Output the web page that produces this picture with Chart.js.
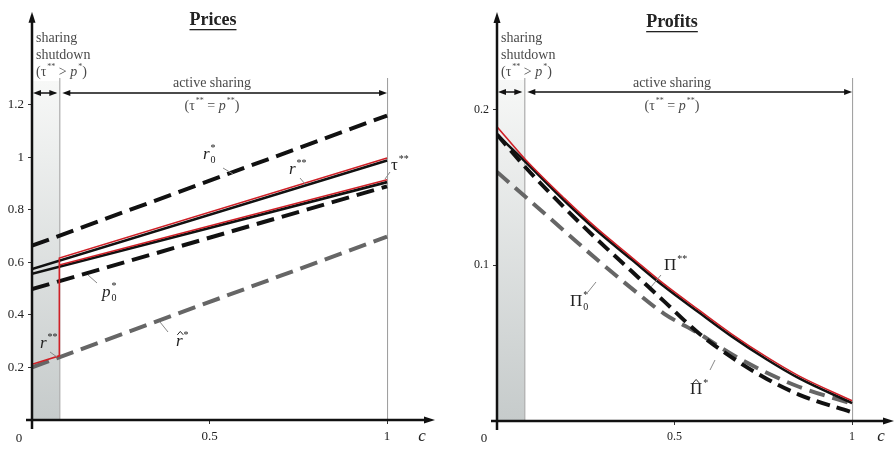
<!DOCTYPE html>
<html>
<head>
<meta charset="utf-8">
<script src="https://cdn.jsdelivr.net/npm/chart.js@4.4.1/dist/chart.umd.min.js"></script>
<style>
  body { margin: 0; background: #fff; }
  .wrap { display: flex; width: 896px; height: 449px; }
  canvas { display: block; }
</style>
</head>
<body>
<div class="wrap">
  <canvas id="prices" width="448" height="449"></canvas>
  <canvas id="profits" width="448" height="449"></canvas>
</div>
<script>
// ---- data ----
const BOUNDARY = 0.077;          // c where sharing shuts down
const cTicks = [0.5, 1];
const priceTicks = [0.2, 0.4, 0.6, 0.8, 1, 1.2];
const profitTicks = [0.1, 0.2];

// Prices (linear in c)
const cPrice    = [0, 1];
const r0Star    = [0.663, 1.158];
const rStar2    = [0.574, 0.987];
const tauStar2  = [0.556, 0.905];
const p0Star    = [0.498, 0.889];
const rHatStar  = [0.200, 0.698];
const rRedC     = [0, 0.077, 0.077, 1];
const rRed      = [0.212, 0.244, 0.616, 0.997];
const tauRedC   = [0.077, 1];
const tauRed    = [0.590, 0.914];

// Profits
const cProfit   = [0, 0.08, 0.19, 0.28, 0.38, 0.47, 0.57, 0.66, 0.76, 0.85, 1];
const piRed     = [0.189, 0.168, 0.143, 0.124, 0.105, 0.088, 0.071, 0.056, 0.041, 0.029, 0.013];
const piStar2   = [0.184, 0.1665, 0.1415, 0.1225, 0.1035, 0.0865, 0.0695, 0.0545, 0.0395, 0.0275, 0.0115];
const pi0Star   = [0.184, 0.163, 0.137, 0.117, 0.096, 0.077, 0.056, 0.041, 0.027, 0.017, 0.0055];
const piHatStar = [0.160, 0.144, 0.122, 0.104, 0.085, 0.069, 0.056, 0.043, 0.031, 0.022, 0.011];

const SERIF = '"Liberation Serif", "DejaVu Serif", serif';

function pts(xs, ys) { return xs.map((x, i) => ({ x: x, y: ys[i] })); }

function line(xs, ys, color, width, dash, smooth) {
    return {
        data: pts(xs, ys),
        showLine: true,
        borderColor: color,
        borderWidth: width,
        borderDash: dash || [],
        pointRadius: 0,
        fill: false,
        tension: 0,
        cubicInterpolationMode: smooth ? "monotone" : "default",
        borderCapStyle: "butt",
        borderJoinStyle: "miter",
    };
}

// rich text: parts = [{t, i, hat}, {sup, sub}]
function drawParts(ctx, x, y, parts, size, color) {
    ctx.save();
    ctx.fillStyle = color;
    ctx.strokeStyle = color;
    ctx.textBaseline = "middle";
    ctx.textAlign = "left";
    let cx = x;
    for (const p of parts) {
        if (p.t !== undefined) {
            ctx.font = (p.i ? "italic " : "") + size + "px " + SERIF;
            ctx.fillText(p.t, cx, y);
            const w = ctx.measureText(p.t).width;
            if (p.hat) {
                ctx.lineWidth = 1;
                ctx.beginPath();
                const hx = cx + w / 2 + (p.i ? 1 : 0);
                ctx.moveTo(hx - 3, y - size * 0.42);
                ctx.lineTo(hx, y - size * 0.62);
                ctx.lineTo(hx + 3, y - size * 0.42);
                ctx.stroke();
            }
            cx += w;
        } else {
            const s = Math.round(size * 0.6);
            ctx.font = s + "px " + SERIF;
            let w = 0;
            if (p.sup) { ctx.fillText(p.sup, cx + 1, y - size * 0.38); w = Math.max(w, ctx.measureText(p.sup).width); }
            if (p.sub) { ctx.fillText(p.sub, cx + 1, y + size * 0.3); w = Math.max(w, ctx.measureText(p.sub).width); }
            cx += w + 1;
        }
    }
    ctx.restore();
    return cx - x;
}

function partsWidth(ctx, parts, size) {
    ctx.save();
    let w = 0;
    for (const p of parts) {
        if (p.t !== undefined) {
            ctx.font = (p.i ? "italic " : "") + size + "px " + SERIF;
            w += ctx.measureText(p.t).width;
        } else {
            ctx.font = Math.round(size * 0.6) + "px " + SERIF;
            w += Math.max(p.sup ? ctx.measureText(p.sup).width : 0, p.sub ? ctx.measureText(p.sub).width : 0) + 1;
        }
    }
    ctx.restore();
    return w;
}

function arrowHead(ctx, x, y, dir, len, half) {
    ctx.beginPath();
    if (dir === "up") { ctx.moveTo(x, y); ctx.lineTo(x - half, y + len); ctx.lineTo(x + half, y + len); }
    if (dir === "right") { ctx.moveTo(x, y); ctx.lineTo(x - len, y - half); ctx.lineTo(x - len, y + half); }
    if (dir === "left") { ctx.moveTo(x, y); ctx.lineTo(x + len, y - half); ctx.lineTo(x + len, y + half); }
    ctx.closePath();
    ctx.fill();
}

const shutdownTxt = [{ t: "(τ" }, { sup: "**" }, { t: " > " }, { t: "p", i: true }, { sup: "*" }, { t: ")" }];
const activeTxt   = [{ t: "(τ" }, { sup: "**" }, { t: " = " }, { t: "p", i: true }, { sup: "**" }, { t: ")" }];

const decor = {
    id: "decor",
    beforeDatasetsDraw(chart, args, o) {
        const ctx = chart.ctx, xs = chart.scales.x, a = chart.chartArea;
        const x0 = xs.getPixelForValue(0), xb = xs.getPixelForValue(BOUNDARY), x1 = xs.getPixelForValue(1);
        ctx.save();
        const g = ctx.createLinearGradient(0, o.arrowY - 12, 0, a.bottom);
        g.addColorStop(0, "#f7f8f7");
        g.addColorStop(1, "#c6cbcb");
        ctx.fillStyle = g;
        ctx.fillRect(x0, o.arrowY - 12, xb - x0, a.bottom - o.arrowY + 12);
        ctx.strokeStyle = "#9a9a9a";
        ctx.lineWidth = 1;
        ctx.beginPath();
        ctx.moveTo(xb + 0.5, 78); ctx.lineTo(xb + 0.5, a.bottom);
        ctx.moveTo(x1 + 0.5, 78); ctx.lineTo(x1 + 0.5, a.bottom);
        ctx.stroke();
        ctx.restore();
    },
    afterDatasetsDraw(chart, args, o) {
        const ctx = chart.ctx, xs = chart.scales.x, a = chart.chartArea;
        const x0 = xs.getPixelForValue(0), xb = xs.getPixelForValue(BOUNDARY), x1 = xs.getPixelForValue(1);
        ctx.save();
        // axes with arrows
        ctx.strokeStyle = "#111";
        ctx.fillStyle = "#111";
        ctx.lineWidth = 2.5;
        ctx.beginPath();
        ctx.moveTo(x0, a.bottom + 9); ctx.lineTo(x0, a.top + 8);
        ctx.moveTo(x0 - 6, a.bottom); ctx.lineTo(a.right - 8, a.bottom);
        ctx.stroke();
        arrowHead(ctx, x0, a.top, "up", 11, 3.5);
        arrowHead(ctx, a.right, a.bottom, "right", 11, 3.5);

        // regime arrows
        const ay = o.arrowY;
        ctx.lineWidth = 1.5;
        ctx.beginPath();
        ctx.moveTo(x0 + 4, ay); ctx.lineTo(xb - 4, ay);
        ctx.moveTo(xb + 6, ay); ctx.lineTo(x1 - 4, ay);
        ctx.stroke();
        arrowHead(ctx, x0 + 1, ay, "left", 8, 3);
        arrowHead(ctx, xb - 2, ay, "right", 8, 3);
        arrowHead(ctx, xb + 3, ay, "left", 8, 3);
        arrowHead(ctx, x1, ay, "right", 8, 3);

        // title
        ctx.font = "bold 18px " + SERIF;
        ctx.textAlign = "center";
        ctx.textBaseline = "middle";
        ctx.fillStyle = "#222";
        ctx.fillText(o.title, o.titleX, o.titleY);
        const tw = ctx.measureText(o.title).width;
        ctx.fillRect(o.titleX - tw / 2, o.titleY + 9, tw, 1.3);

        // regime text
        const c = "#4a4a4a";
        ctx.font = "14px " + SERIF;
        ctx.textAlign = "left";
        ctx.fillStyle = c;
        ctx.fillText("sharing", x0 + 4, 38);
        ctx.fillText("shutdown", x0 + 4, 55);
        drawParts(ctx, x0 + 4, 72, shutdownTxt, 14, c);
        ctx.font = "14px " + SERIF;
        ctx.textAlign = "center";
        ctx.fillText("active sharing", o.activeX, 83);
        const aw = partsWidth(ctx, activeTxt, 14);
        drawParts(ctx, o.activeX - aw / 2, 106, activeTxt, 14, c);

        // origin and c
        ctx.font = "13px " + SERIF;
        ctx.fillStyle = "#222";
        ctx.textAlign = "center";
        ctx.fillText("0", x0 - 13, 439);
        ctx.font = "italic 17px " + SERIF;
        ctx.fillText("c", a.right - 13, 437);

        // leaders and curve labels
        ctx.strokeStyle = "#888";
        ctx.lineWidth = 1;
        ctx.beginPath();
        for (const l of o.leaders) { ctx.moveTo(l[0], l[1]); ctx.lineTo(l[2], l[3]); }
        ctx.stroke();
        for (const lb of o.labels) drawParts(ctx, lb.x, lb.y, lb.parts, 17, "#222");
        ctx.restore();
    },
};

function makeChart(id, datasets, yMax, xMax, yTicks, axisW, padRight, padTop, bottomH, tickSize, decorOpts) {
    return new Chart(document.getElementById(id), {
        type: "scatter",
        data: { datasets: datasets },
        options: {
            responsive: false,
            animation: false,
            devicePixelRatio: 1,
            layout: { padding: { left: 0, right: padRight, top: padTop, bottom: 0 } },
            plugins: { legend: { display: false }, tooltip: { enabled: false }, decor: decorOpts },
            scales: {
                x: {
                    type: "linear", min: 0, max: xMax,
                    afterBuildTicks: (s) => { s.ticks = cTicks.map(v => ({ value: v })); },
                    afterFit: (s) => { s.height = bottomH; },
                    grid: { drawOnChartArea: false, drawTicks: true, tickLength: 4, color: "#333" },
                    border: { display: false },
                    ticks: { color: "#222", padding: 5, font: { family: SERIF, size: tickSize }, maxRotation: 0,
                             callback: (v) => String(v) },
                },
                y: {
                    type: "linear", min: 0, max: yMax,
                    afterBuildTicks: (s) => { s.ticks = yTicks.map(v => ({ value: v })); },
                    afterFit: (s) => { s.width = axisW; },
                    grid: { drawOnChartArea: false, drawTicks: true, tickLength: 4, color: "#333" },
                    border: { display: false },
                    ticks: { color: "#222", padding: 4, font: { family: SERIF, size: tickSize },
                             callback: (v) => String(v) },
                },
            },
        },
        plugins: [decor],
    });
}

// Prices chart (red drawn first => on top)
makeChart("prices", [
    line(rRedC, rRed, "#cf2027", 1.6),
    line(tauRedC, tauRed, "#cf2027", 1.6),
    line(cPrice, rStar2, "#111", 2.6),
    line(cPrice, tauStar2, "#111", 2.6),
    line(cPrice, r0Star, "#111", 4, [18, 8]),
    line(cPrice, p0Star, "#111", 4, [18, 8]),
    line(cPrice, rHatStar, "#666", 4, [18, 8]),
], 1.553, 1.135, priceTicks, 32, 13, 10, 29, 13, {
    title: "Prices", titleX: 213, titleY: 20, activeX: 212, arrowY: 93,
    leaders: [[223, 168, 233, 174], [300, 178, 305, 184], [390, 172, 385, 179],
              [88, 275, 97, 283], [160, 322, 168, 332], [50, 352, 57, 357]],
    labels: [
        { x: 203, y: 155, parts: [{ t: "r", i: true }, { sup: "*", sub: "0" }] },
        { x: 289, y: 170, parts: [{ t: "r", i: true }, { sup: "**" }] },
        { x: 391, y: 166, parts: [{ t: "τ" }, { sup: "**" }] },
        { x: 102, y: 293, parts: [{ t: "p", i: true }, { sup: "*", sub: "0" }] },
        { x: 176, y: 342, parts: [{ t: "r", i: true, hat: true }, { sup: "*" }] },
        { x: 40, y: 344, parts: [{ t: "r", i: true }, { sup: "**" }] },
    ],
});

// Profits chart
makeChart("profits", [
    line(cProfit, piRed, "#cf2027", 1.6, null, true),
    line(cProfit, piStar2, "#111", 2.6, null, true),
    line(cProfit, pi0Star, "#111", 4, [14, 7], true),
    line(cProfit, piHatStar, "#666", 4, [16, 8], true),
], 0.2627, 1.118, profitTicks, 49, 2, 12, 28, 12, {
    title: "Profits", titleX: 224, titleY: 22, activeX: 224, arrowY: 92,
    leaders: [[213, 275, 203, 287], [140, 292, 148, 282], [262, 370, 267, 360]],
    labels: [
        { x: 216, y: 266, parts: [{ t: "Π" }, { sup: "**" }] },
        { x: 122, y: 302, parts: [{ t: "Π" }, { sup: "*", sub: "0" }] },
        { x: 242, y: 390, parts: [{ t: "Π", hat: true }, { sup: "*" }] },
    ],
});
</script>
</body>
</html>
